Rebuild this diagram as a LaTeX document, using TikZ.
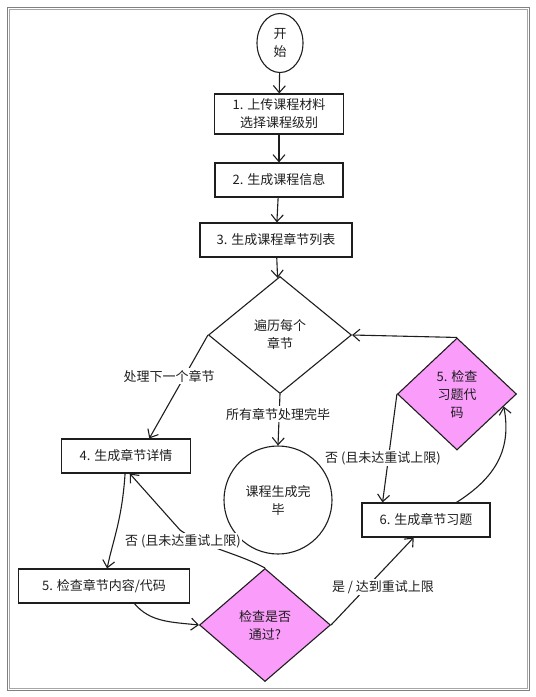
\documentclass[tikz,border=0pt]{standalone}
\usepackage{fontspec}
\setmainfont{Noto Sans CJK SC}
\usetikzlibrary{shapes.geometric,arrows.meta}
\definecolor{ink}{HTML}{1E1E1E}
\definecolor{checkfill}{HTML}{FA9CFA}
\tikzstyle{stepbox}=[draw=ink, line width=1.1pt, minimum height=34pt, inner sep=0pt, align=center]
\tikzstyle{choice}=[diamond, draw=ink, line width=1.1pt, inner sep=0pt, align=center]
\tikzstyle{ends}=[ellipse, draw=ink, line width=1.1pt, inner sep=0pt, align=center]
\tikzstyle{arr}=[draw=ink, line width=1.1pt, -{Straight Barb[length=7pt,width=12pt]}]
\tikzstyle{lbl}=[fill=white, inner sep=1.5pt, text=ink]

\begin{document}
\begin{tikzpicture}[x=1pt,y=-1pt,font=\fontsize{13}{18}\selectfont,text=ink]
		\useasboundingbox (0,0) rectangle (536,697);
		\draw[gray, line width=0.6pt] (7,7) rectangle (529,690);
		\draw[gray!70, line width=0.6pt] (9,9) rectangle (527,688);
		
		\node[ends, minimum width=46pt, minimum height=59pt] (start) at (280,43) {开\\始};
		\node[stepbox, minimum width=129pt, minimum height=40pt] (upload) at (279,114) {1. 上传课程材料\\选择课程级别};
		\node[stepbox, minimum width=128pt] (info) at (279,180) {2. 生成课程信息};
		\node[stepbox, minimum width=152pt] (list) at (276,240) {3. 生成课程章节列表};
		\node[choice, minimum width=143pt, minimum height=117pt] (loop) at (280,335) {遍历每个\\章节};
		\node[stepbox, minimum width=129pt] (detail) at (126,456) {4. 生成章节详情};
		\node[ends, minimum width=108pt, minimum height=108pt] (done) at (278,500) {课程生成完\\毕};
		\node[stepbox, minimum width=171pt] (review) at (104,586) {5. 检查章节内容/代码};
		\node[choice, fill=checkfill, minimum width=131pt, minimum height=113pt] (pass) at (265,625) {检查是否\\通过?};
		\node[stepbox, minimum width=128pt] (exercise) at (426,520) {6. 生成章节习题};
		\node[choice, fill=checkfill, minimum width=119pt, minimum height=112pt] (codecheck) at (457,394) {5. 检查\\习题代\\码};
		
		\draw[arr] (start) -- (upload);
		\draw[arr] (upload) -- (info);
		\draw[arr] (info) -- (list);
		\draw[arr] (list) -- (loop);
		
		\draw[arr] (loop.west) -- (detail.37) node[lbl] at (169,376) {处理下一个章节};
		\draw[arr] (loop.south) -- (done.north) node[lbl] at (278,414) {所有章节处理完毕};
		\draw[arr] (detail.-93) .. controls (122,520) and (113,540) .. (review.80);
		\draw[arr] (review.-30) .. controls (150,622) and (170,622) .. (pass.west);
		\draw[arr] (pass.north) .. controls (235,552) and (205,548) .. (180,530) -- (detail.-78)
			node[lbl] at (183,541) {否 (且未达重试上限)};
		\draw[arr] (pass.east) -- (exercise.-125) node[lbl] at (383,587) {是 / 达到重试上限};
		\draw[arr] (exercise.30) .. controls (495,478) and (512,450) .. (codecheck.-15);
		\draw[arr] (codecheck.north) -- (loop.east);
		\draw[arr] (codecheck.west) -- (exercise.158) node[lbl] at (383,458) {否 (且未达重试上限)};
		\end{tikzpicture}
\end{document}
